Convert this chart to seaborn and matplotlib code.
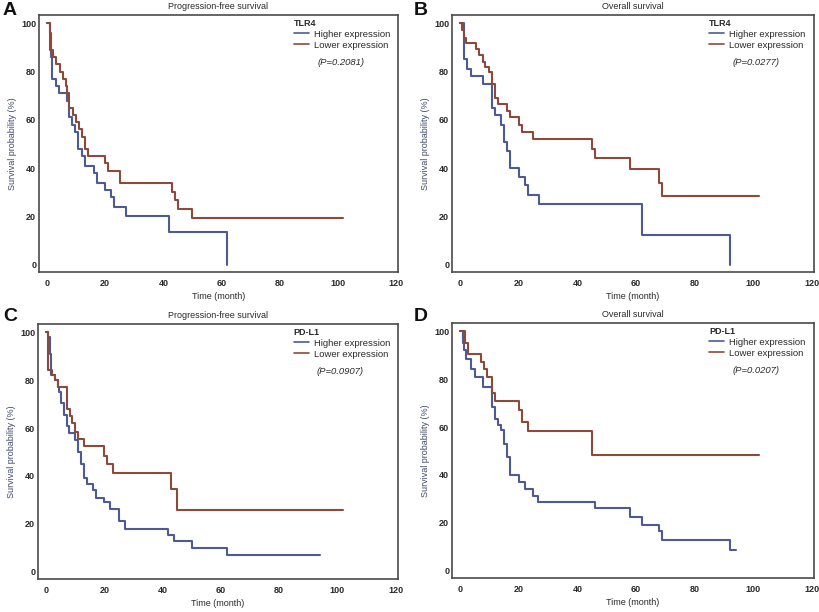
import matplotlib
matplotlib.use("Agg")
import matplotlib.pyplot as plt
import seaborn as sns
import pandas as pd
from matplotlib.ticker import MultipleLocator

# === Kaplan-Meier curves (time in months, survival in %) ===
a_hi_t = [0, 1, 1.5, 1.8, 3.2, 4, 6.8, 7.5, 8.5, 9.5, 10.5, 12, 13, 16, 17, 20, 22, 23, 27, 42, 62]
a_hi_s = [100, 96, 86, 77, 74, 71, 68, 61, 58, 55, 48, 45, 41, 38, 34, 31, 28, 24, 20, 13.5, 0]
a_lo_t = [0, 1, 2, 3, 4.5, 5.5, 6.5, 7, 7.5, 9, 10, 11, 12, 13, 14, 20, 21, 25, 43, 44, 45, 50, 102]
a_lo_s = [100, 89, 86, 83, 80, 77, 74, 71, 65, 62, 59, 56, 53, 48, 45, 42, 39, 34, 30, 27, 23, 19.5, 19.5]

b_hi_t = [0, 1.4, 2.3, 3.7, 7.7, 10.8, 12, 14, 15, 16, 17, 20, 22, 23, 27, 62, 92]
b_hi_s = [100, 85, 81, 78, 75, 65, 62, 58, 51, 47, 40, 36.5, 33, 29, 25, 12.5, 0]
b_lo_t = [0, 0.6, 1.3, 2, 5.5, 6.5, 7.7, 8.5, 9.7, 11, 12, 13, 16, 17, 20, 21, 25, 45, 46, 58, 68, 69, 102]
b_lo_s = [100, 97, 94, 92, 89.5, 87, 84, 82, 79.6, 75, 69, 66.5, 63.5, 61, 58, 55, 52, 48, 44, 39.6, 34, 28.3, 28.3]

c_hi_t = [0, 0.7, 1.2, 1.7, 3, 4, 4.5, 5, 6, 7, 8, 10, 11, 12, 13, 14, 16, 17, 20, 22, 25, 27, 42, 44, 50, 62, 94]
c_hi_s = [100, 98, 91, 82, 80, 77, 75, 70.5, 65.5, 61, 58, 55, 50, 45, 39, 36.5, 34, 31, 29, 26, 21, 18, 15.5, 13, 10, 7, 7]
c_lo_t = [0, 0.6, 2, 3, 4, 7, 8.3, 9, 10, 11, 13, 20, 21, 23, 43, 45, 102]
c_lo_s = [100, 84, 82, 80, 77, 68, 65, 62, 58.5, 55.5, 52.5, 48.5, 45, 41.3, 34.4, 25.7, 25.7]

d_hi_t = [0, 0.8, 1.4, 2, 3.8, 5, 7.7, 10.8, 12, 13, 14, 15, 16, 17, 20, 22, 25, 26.5, 46, 58, 62, 68, 69, 92, 94]
d_hi_s = [100, 95, 92, 88.3, 84, 81, 76.5, 68.3, 63.4, 61, 58.6, 53, 47.3, 40, 37.2, 34, 31.4, 28.6, 26, 22.5, 19.3, 16.6, 13, 8.6, 8.6]
d_lo_t = [0, 1.5, 2.5, 7, 8, 9, 11, 12, 20, 21, 23, 45, 102]
d_lo_s = [100, 95, 90.6, 87, 84, 81, 74, 70.7, 66.9, 62, 58.2, 48.3, 48.3]

panel_letters = ["A", "B", "C", "D"]
panel_titles = ["Progression-free survival", "Overall survival",
                "Progression-free survival", "Overall survival"]
markers = ["TLR4", "TLR4", "PD-L1", "PD-L1"]
p_values = ["(P=0.2081)", "(P=0.0277)", "(P=0.0907)", "(P=0.0207)"]
group_labels = ["Higher expression", "Lower expression"]
curves = [
    ((a_hi_t, a_hi_s), (a_lo_t, a_lo_s)),
    ((b_hi_t, b_hi_s), (b_lo_t, b_lo_s)),
    ((c_hi_t, c_hi_s), (c_lo_t, c_lo_s)),
    ((d_hi_t, d_hi_s), (d_lo_t, d_lo_s)),
]

HI_COLOR = "#4e5b92"
LO_COLOR = "#8c4a3a"
FRAME = "#4a4a4a"
TXT = "#2a2a2a"

sns.set_style("white")
plt.rcParams["font.family"] = ["Liberation Sans", "DejaVu Sans"]

fig = plt.figure(figsize=(8.2, 6.12), dpi=100)

# axes rectangles in pixels: left, top, right, bottom
rects = [(39, 15, 398, 272), (452, 15, 814, 272),
         (38, 324, 398, 579), (452, 323, 814, 578)]
letter_pos = [(3, 2), (414, 2), (3, 308), (414, 308)]

for i, (l, t, r, b) in enumerate(rects):
    ax = fig.add_axes([l / 820, 1 - b / 612, (r - l) / 820, (b - t) / 612])
    (ht, hs), (lt, ls) = curves[i]
    df_hi = pd.DataFrame({"t": ht, "s": hs})
    df_lo = pd.DataFrame({"t": lt, "s": ls})
    sns.lineplot(data=df_hi, x="t", y="s", ax=ax, color=HI_COLOR, lw=1.5,
                 drawstyle="steps-post", estimator=None, sort=False,
                 label=group_labels[0])
    sns.lineplot(data=df_lo, x="t", y="s", ax=ax, color=LO_COLOR, lw=1.5,
                 drawstyle="steps-post", estimator=None, sort=False,
                 label=group_labels[1])

    ax.set_xlim(-2.8, 120.8)
    ax.set_ylim(-3, 103.4)
    ax.xaxis.set_major_locator(MultipleLocator(20))
    ax.xaxis.set_minor_locator(MultipleLocator(10))
    ax.yaxis.set_major_locator(MultipleLocator(20))
    ax.yaxis.set_minor_locator(MultipleLocator(10))
    ax.tick_params(which="both", direction="in", colors=FRAME, labelcolor=TXT,
                   labelsize=6.5, width=0.8)
    ax.tick_params(which="major", length=4)
    ax.tick_params(axis="x", which="major", pad=5)
    ax.tick_params(axis="y", which="major", pad=2)
    ax.tick_params(which="minor", length=2.5)
    for lab in ax.get_xticklabels() + ax.get_yticklabels():
        lab.set_fontweight("bold")
    for sp in ax.spines.values():
        sp.set_color(FRAME)
        sp.set_linewidth(1.2)

    ax.set_xlabel("Time (month)", fontsize=6.5, color=TXT, labelpad=3)
    ax.set_ylabel("Survival probability (%)", fontsize=6.5, color="#3f4a6a", labelpad=3)
    ax.set_title(panel_titles[i], fontsize=6.5, color=TXT, pad=4)

    leg = ax.legend(title=markers[i], loc="upper left", bbox_to_anchor=(0.70, 1.0),
                    frameon=False, fontsize=6.8, title_fontsize=6.5,
                    handlelength=1.6, handletextpad=0.5, borderaxespad=0.2,
                    labelspacing=0.2, borderpad=0.2)
    leg._legend_box.align = "left"
    leg.get_title().set_fontweight("bold")
    leg.get_title().set_color(TXT)
    for txt in leg.get_texts():
        txt.set_color(TXT)
    for ln in leg.get_lines():
        ln.set_linewidth(1.2)
    ax.text(0.775, 0.815, p_values[i], transform=ax.transAxes, fontsize=6.8,
            style="italic", color=TXT, ha="left", va="center")

    lx, ly = letter_pos[i]
    fig.text(lx / 820, 1 - ly / 612, panel_letters[i], fontsize=14,
             fontweight="bold", va="top", ha="left", color="#111111")

fig.savefig("out.png", dpi=100)
